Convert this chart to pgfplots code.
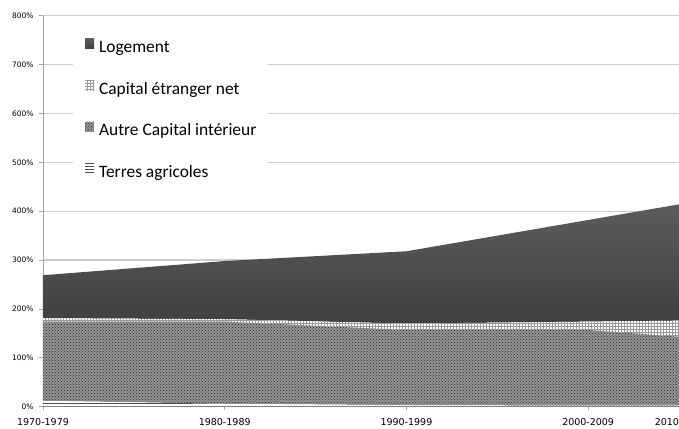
\documentclass[border=0pt]{standalone}
\usepackage{fontspec}
\setmainfont{Carlito}
\newfontfamily\dejavu{DejaVu Sans}
\usepackage{pgfplots}
\pgfplotsset{compat=1.18}
\usetikzlibrary{patterns}
\begin{document}
\begin{tikzpicture}[x=1pt,y=1pt]
\path[use as bounding box] (0,0) rectangle (679,428);
\begin{axis}[
  at={(43pt,21.3pt)}, anchor=south west,
  scale only axis, width=636pt, height=391pt,
  xmin=0, xmax=3.5, ymin=0, ymax=800,
  enlargelimits=false,
  stack plots=y,
  axis x line=bottom, axis y line=left,
  axis line style={draw=black!35, line width=0.8pt, -},
  ymajorgrids,
  grid style={draw=black!20, line width=1.3pt},
  xtick={0,1,2,3,3.5},
  xticklabels={1970-1979,1980-1989,1990-1999,2000-2009,{\makebox[0pt][r]{2010}}},
  ytick={0,100,...,800},
  yticklabels={0\%,100\%,200\%,300\%,400\%,500\%,600\%,700\%,800\%},
  tick align=outside,
  major tick length=3.5pt,
  tick style={draw=black!35, line width=0.8pt},
  xticklabel style={font=\dejavu\fontsize{9.5}{10}\selectfont, text=black, yshift=-5pt},
  yticklabel style={font=\dejavu\fontsize{7.5}{9}\selectfont, text=black, xshift=-2.5pt},
  reverse legend,
  legend cell align=left,
  legend style={at={(rel axis cs:0.047,0.977)}, anchor=north west, draw=none, fill=white,
    inner xsep=12pt, inner ysep=14pt, row sep=23.5pt, column sep=5pt,
    font=\fontsize{17.4}{19}\selectfont,
    nodes={inner sep=0pt, text height=12pt, text depth=4pt}},
  legend image code/.code={\draw[#1, draw=none] (0pt,0pt) rectangle (9pt,10pt);},
]
\addplot[draw=none, fill=white, postaction={pattern=horizontal lines, pattern color=black!70}]
  coordinates {(0,12) (1,6) (2,3) (3,2) (3.5,2)} \closedcycle;
\addlegendentry{Terres agricoles}
\addplot[draw=none, fill=black!42, postaction={pattern=crosshatch dots, pattern color=black!85}]
  coordinates {(0,162) (1,168) (2,154) (3,155) (3.5,141)} \closedcycle;
\addlegendentry{Autre Capital intérieur}
\addplot[draw=none, fill=white, postaction={pattern=grid, pattern color=black!40}]
  coordinates {(0,7) (1,5) (2,13) (3,17) (3.5,33)} \closedcycle;
\addlegendentry{Capital étranger net}
\addplot[draw=none, top color=black!64, bottom color=black!75]
  coordinates {(0,88) (1,119) (2,148) (3,208) (3.5,238)} \closedcycle;
\addlegendentry{Logement}
\end{axis}
\end{tikzpicture}
\end{document}
